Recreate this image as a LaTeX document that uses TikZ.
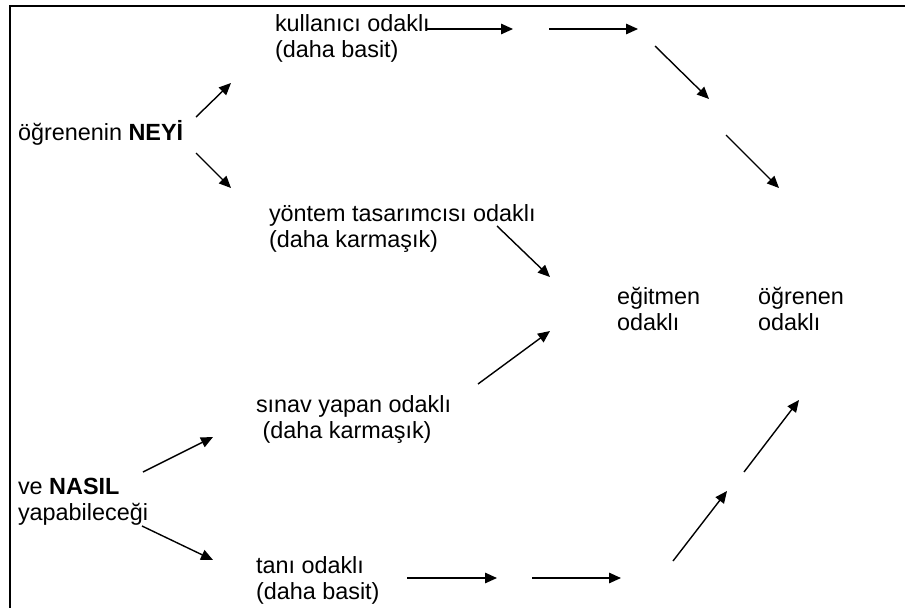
\documentclass[tikz,border=0pt]{standalone}
\usepackage{fontspec}
\setmainfont{Liberation Sans}
\usetikzlibrary{arrows.meta}
\begin{document}
\begin{tikzpicture}[x=1pt,y=-1pt,
  txt/.style={anchor=base west, inner sep=0pt, outer sep=0pt, align=left,
    font=\fontsize{23.4}{26}\selectfont},
  flow/.style={line width=1.4pt, -{Triangle[length=12pt,width=10.5pt]}},
  frame/.style={line width=1.5pt}]
\useasboundingbox (0,0) rectangle (905,608);
% frame along the top and left edges
\draw[frame] (905,6) -- (10,6) -- (10,608);

% labels (placed by the baseline of their last line)
\node[txt] (kul)  at (275,57)  {kullanıcı odaklı\\(daha basit)};
\node[txt] (ney)  at (18,140)  {öğrenenin \textbf{NEYİ}};
\node[txt] (yon)  at (269,247) {yöntem tasarımcısı odaklı\\(daha karmaşık)};
\node[txt] (egt)  at (617,330) {eğitmen\\odaklı};
\node[txt] (ogr)  at (758,330) {öğrenen\\odaklı};
\node[txt] (sin)  at (256,438) {sınav yapan odaklı\\~(daha karmaşık)};
\node[txt] (nas)  at (18,520)  {ve \textbf{NASIL}\\yapabileceği};
\node[txt] (tan)  at (256,599) {tanı odaklı\\(daha basit)};

% arrow end points
\coordinate (neyUpS)   at (196,117); \coordinate (neyUpE)   at (231,83);
\coordinate (neyDnS)   at (196,153); \coordinate (neyDnE)   at (231,188);
\coordinate (topAS)    at (427,29);  \coordinate (topAE)    at (513,29);
\coordinate (topBS)    at (549,29);  \coordinate (topBE)    at (638,29);
\coordinate (rgtAS)    at (655,46);  \coordinate (rgtAE)    at (709,99);
\coordinate (rgtBS)    at (726,135); \coordinate (rgtBE)    at (779,188);
\coordinate (yonS)     at (497,226); \coordinate (yonE)     at (550,277);
\coordinate (sinS)     at (478,384); \coordinate (sinE)     at (550,331);
\coordinate (nasUpS)   at (143,472); \coordinate (nasUpE)   at (213,437);
\coordinate (nasDnS)   at (142,526); \coordinate (nasDnE)   at (213,560);
\coordinate (botAS)    at (407,578); \coordinate (botAE)    at (497,578);
\coordinate (botBS)    at (532,578); \coordinate (botBE)    at (621,578);
\coordinate (lowAS)    at (673,561); \coordinate (lowAE)    at (727,491);
\coordinate (lowBS)    at (744,472); \coordinate (lowBE)    at (799,400);

% arrows
\draw[flow] (neyUpS) -- (neyUpE);
\draw[flow] (neyDnS) -- (neyDnE);
\draw[flow] (topAS) -- (topAE);
\draw[flow] (topBS) -- (topBE);
\draw[flow] (rgtAS) -- (rgtAE);
\draw[flow] (rgtBS) -- (rgtBE);
\draw[flow] (yonS) -- (yonE);
\draw[flow] (sinS) -- (sinE);
\draw[flow] (nasUpS) -- (nasUpE);
\draw[flow] (nasDnS) -- (nasDnE);
\draw[flow] (botAS) -- (botAE);
\draw[flow] (botBS) -- (botBE);
\draw[flow] (lowAS) -- (lowAE);
\draw[flow] (lowBS) -- (lowBE);
\end{tikzpicture}
\end{document}
